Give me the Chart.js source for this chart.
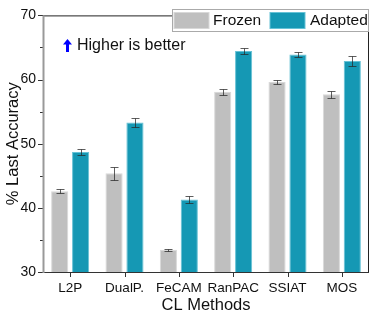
<!DOCTYPE html>
<html>
<head>
<meta charset="utf-8">
<script src="https://cdn.jsdelivr.net/npm/chart.js@4"></script>
<style>
html,body{margin:0;padding:0;background:#fff;}
#wrap{width:372px;height:316px;}
</style>
</head>
<body>
<div id="wrap"><canvas id="c" width="372" height="316"></canvas></div>
<script>
const categories = ['L2P', 'DualP.', 'FeCAM', 'RanPAC', 'SSIAT', 'MOS'];
const frozenValues = [42.6, 45.4, 33.45, 58.1, 59.6, 57.7];
const frozenErrors = [0.3, 1.0, 0.2, 0.45, 0.35, 0.55];
const adaptedValues = [48.7, 53.3, 41.3, 64.45, 63.9, 62.9];
const adaptedErrors = [0.45, 0.65, 0.6, 0.4, 0.45, 0.8];
const seriesNames = ['Frozen', 'Adapted'];
const yTickValues = [30, 40, 50, 60, 70];
const yMinorTickValues = [35, 45, 55, 65];
const annotationText = 'Higher is better';

const FONT = '"Liberation Sans", Arial, sans-serif';
const errorSets = [frozenErrors, adaptedErrors];

const decorPlugin = {
  id: 'decor',
  afterDatasetsDraw(chart) {
    const ctx = chart.ctx;
    const ca = chart.chartArea;
    const ys = chart.scales.y, xs = chart.scales.x;
    ctx.save();
    // error bars
    chart.data.datasets.forEach((ds, di) => {
      const meta = chart.getDatasetMeta(di);
      meta.data.forEach((bar, i) => {
        const v = ds.data[i], e = errorSets[di][i];
        const yT = Math.round(ys.getPixelForValue(v + e)) + 0.5;
        const yB = Math.round(ys.getPixelForValue(v - e)) + 0.5;
        const x = Math.round(bar.x) + 0.5;
        ctx.strokeStyle = 'rgba(40,40,40,0.75)';
        ctx.lineWidth = 1;
        ctx.beginPath();
        ctx.moveTo(x, yT); ctx.lineTo(x, yB);
        ctx.moveTo(x - 4, yT); ctx.lineTo(x + 4, yT);
        ctx.moveTo(x - 4, yB); ctx.lineTo(x + 4, yB);
        ctx.stroke();
      });
    });
    // frame: top & right
    ctx.strokeStyle = '#222';
    ctx.lineWidth = 1;
    ctx.beginPath();
    ctx.moveTo(ca.left, ca.top + 0.5); ctx.lineTo(ca.right, ca.top + 0.5);
    ctx.moveTo(ca.right - 0.5, ca.top); ctx.lineTo(ca.right - 0.5, ca.bottom);
    ctx.stroke();
    // bottom axis
    ctx.strokeStyle = '#333';
    ctx.beginPath();
    ctx.moveTo(ca.left, ca.bottom + 0.5); ctx.lineTo(ca.right, ca.bottom + 0.5);
    xs.ticks.forEach((t, i) => {
      const x = Math.round(xs.getPixelForTick(i)) + 0.5;
      ctx.moveTo(x, ca.bottom); ctx.lineTo(x, ca.bottom + 5);
    });
    ctx.stroke();
    // left axis ticks
    ctx.strokeStyle = '#333';
    ctx.beginPath();
    yTickValues.forEach(v => {
      const y = Math.round(ys.getPixelForValue(v)) + 0.5;
      ctx.moveTo(ca.left - 5, y); ctx.lineTo(ca.left, y);
    });
    yMinorTickValues.forEach(v => {
      const y = Math.round(ys.getPixelForValue(v)) + 0.5;
      ctx.moveTo(ca.left - 3, y); ctx.lineTo(ca.left, y);
    });
    ctx.stroke();
    // left axis line (grey)
    ctx.strokeStyle = '#999';
    ctx.lineWidth = 2;
    ctx.beginPath();
    ctx.moveTo(ca.left + 0.5, ca.top); ctx.lineTo(ca.left + 0.5, ca.bottom + 1);
    ctx.stroke();

    // legend
    const lx = 172.5, ly = 9.5, lw = 198, lh = 22;
    ctx.fillStyle = '#fff';
    ctx.fillRect(lx, ly, lw - 2, lh);
    ctx.strokeStyle = '#aaa';
    ctx.lineWidth = 1;
    ctx.strokeRect(lx, ly, lw - 2, lh);
    const items = [
      {x: 174, tx: 213},
      {x: 270, tx: 310}
    ];
    chart.data.datasets.forEach((ds, di) => {
      const it = items[di];
      ctx.fillStyle = ds.borderColor;
      ctx.fillRect(it.x - 0.5, 12, 36, 17);
      ctx.fillStyle = ds.backgroundColor;
      ctx.fillRect(it.x + 0.5, 13, 34, 15);
      ctx.fillStyle = '#111';
      ctx.font = '15.5px ' + FONT;
      ctx.textBaseline = 'middle';
      ctx.textAlign = 'left';
      ctx.fillText(ds.label, it.tx, 21);
    });

    // annotation arrow (bold blue up arrow)
    ctx.fillStyle = '#0000ff';
    ctx.beginPath();
    ctx.moveTo(67.5, 39);
    ctx.lineTo(72, 44.5);
    ctx.lineTo(69, 44.5);
    ctx.lineTo(69, 52);
    ctx.lineTo(66, 52);
    ctx.lineTo(66, 44.5);
    ctx.lineTo(63, 44.5);
    ctx.closePath();
    ctx.fill();
    ctx.fillStyle = '#111';
    ctx.font = '16px ' + FONT;
    ctx.textBaseline = 'middle';
    ctx.fillText(annotationText, 77, 45.5);
    ctx.restore();
  }
};

new Chart(document.getElementById('c'), {
  type: 'bar',
  data: {
    labels: categories,
    datasets: [
      {label: seriesNames[0], data: frozenValues, backgroundColor: '#bfbfbf', borderColor: '#d8d8d8', borderWidth: 1, borderSkipped: 'bottom'},
      {label: seriesNames[1], data: adaptedValues, backgroundColor: '#1598b4', borderColor: '#66c2d6', borderWidth: 1, borderSkipped: 'bottom'}
    ]
  },
  options: {
    responsive: false,
    animation: false,
    devicePixelRatio: 1,
    layout: {padding: {top: 9, right: 3, left: 0, bottom: 0}},
    datasets: {bar: {categoryPercentage: 0.77, barPercentage: 0.82}},
    plugins: {legend: {display: false}, tooltip: {enabled: false}},
    scales: {
      x: {
        grid: {display: false, drawTicks: false},
        border: {display: false},
        ticks: {color: '#111', font: {family: FONT, size: 13.5}, padding: 8, maxRotation: 0, autoSkip: false},
        title: {display: true, text: 'CL Methods', color: '#111', font: {family: FONT, size: 16.5}, padding: {top: 0, bottom: 1}},
        afterFit(s) { s.height = 44; }
      },
      y: {
        min: 30, max: 70,
        afterBuildTicks(s) { s.ticks = yTickValues.map(v => ({value: v})); },
        grid: {display: false, drawTicks: false},
        border: {display: false},
        ticks: {color: '#111', font: {family: FONT, size: 14}, padding: 7},
        title: {display: true, text: '% Last Accuracy', color: '#111', font: {family: FONT, size: 16.5}, padding: {top: 3.5, bottom: 0}},
        afterFit(s) { s.width = 43; }
      }
    }
  },
  plugins: [decorPlugin]
});
</script>
</body>
</html>
